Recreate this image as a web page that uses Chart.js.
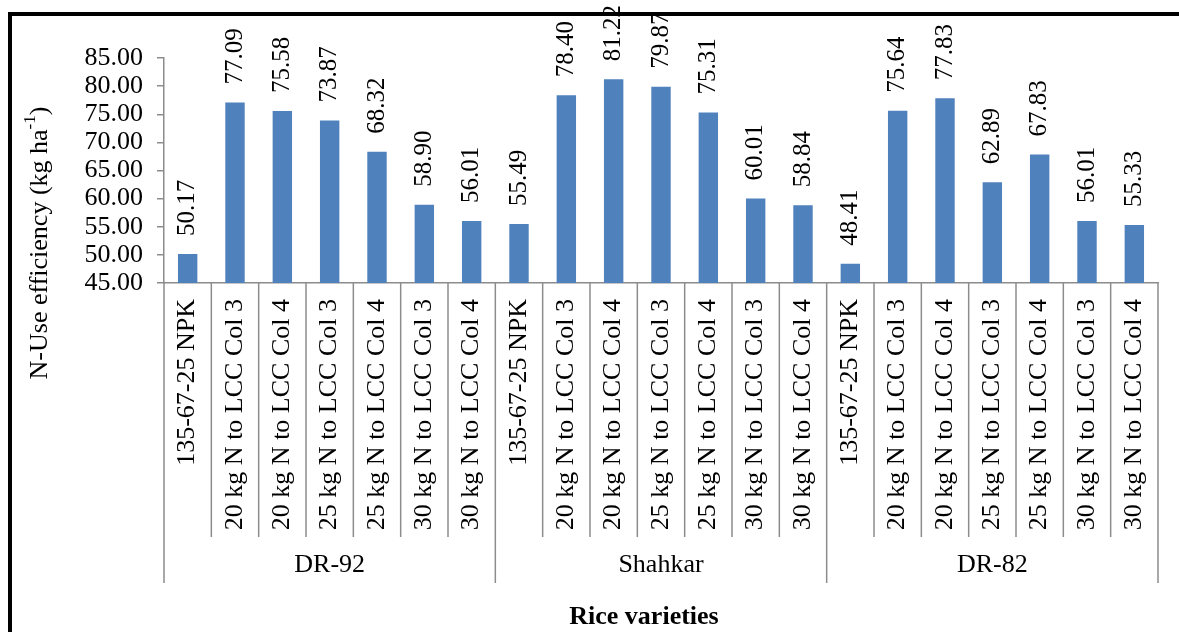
<!DOCTYPE html>
<html>
<head>
<meta charset="utf-8">
<script src="https://cdn.jsdelivr.net/npm/chart.js@4"></script>
<style>
  html, body { margin: 0; padding: 0; background: #fff; }
  #wrap { width: 1179px; height: 632px; position: relative; }
</style>
</head>
<body>
<div id="wrap"><canvas id="c" width="1179" height="632"></canvas></div>
<script>
// Treatments applied within each rice variety
const treatments = [
  '135-67-25 NPK',
  '20 kg N to LCC Col 3',
  '20 kg N to LCC Col 4',
  '25 kg N to LCC Col 3',
  '25 kg N to LCC Col 4',
  '30 kg N to LCC Col 3',
  '30 kg N to LCC Col 4'
];
const varieties = ['DR-92', 'Shahkar', 'DR-82'];

// N-use efficiency (kg ha-1) per variety
const dr92 = [50.17, 77.09, 75.58, 73.87, 68.32, 58.90, 56.01];
const shahkar = [55.49, 78.40, 81.22, 79.87, 75.31, 60.01, 58.84];
const dr82 = [48.41, 75.64, 77.83, 62.89, 67.83, 56.01, 55.33];

const yTicks = [45, 50, 55, 60, 65, 70, 75, 80, 85];

const labels = [].concat(treatments, treatments, treatments);
const values = [].concat(dr92, shahkar, dr82);
const groupSizes = [dr92.length, shahkar.length, dr82.length];

const FONT = '"Liberation Serif", "Times New Roman", serif';
const AXIS_GREY = '#8c8c8c';

const decorations = {
  id: 'decorations',
  beforeDraw(chart) {
    const ctx = chart.ctx;
    ctx.save();
    ctx.fillStyle = '#ffffff';
    ctx.fillRect(0, 0, chart.width, chart.height);
    // black frame (top and left edges)
    ctx.fillStyle = '#000000';
    ctx.fillRect(8, 12, chart.width - 8, 4);
    ctx.fillRect(8, 12, 4, chart.height - 12);
    ctx.restore();
  },
  afterDraw(chart) {
    const ctx = chart.ctx;
    const xs = chart.scales.x;
    const ys = chart.scales.y;
    const n = labels.length;
    const step = xs.getPixelForValue(1) - xs.getPixelForValue(0);
    const axisY = ys.bottom;

    ctx.save();
    ctx.fillStyle = '#000';

    // value labels above the bars
    const meta = chart.getDatasetMeta(0);
    ctx.font = '25px ' + FONT;
    meta.data.forEach((bar, i) => {
      ctx.save();
      ctx.translate(bar.x, bar.y - 18);
      ctx.rotate(-Math.PI / 2);
      ctx.textAlign = 'left';
      ctx.textBaseline = 'middle';
      ctx.fillText(values[i].toFixed(2), 0, 0);
      ctx.restore();
    });

    // treatment labels under the axis
    ctx.font = '26px ' + FONT;
    labels.forEach((lab, i) => {
      const px = xs.getPixelForValue(i);
      ctx.save();
      ctx.translate(px, axisY + 16);
      ctx.rotate(-Math.PI / 2);
      ctx.textAlign = 'right';
      ctx.textBaseline = 'middle';
      ctx.fillText(lab, 0, 0);
      ctx.restore();
    });

    // separators between categories and between varieties
    const groupStarts = [0];
    groupSizes.forEach((s, g) => groupStarts.push(groupStarts[g] + s));
    ctx.strokeStyle = AXIS_GREY;
    ctx.lineWidth = 1.5;
    for (let i = 0; i <= n; i++) {
      const bx = xs.getPixelForValue(0) - step / 2 + i * step;
      const isGroup = groupStarts.includes(i);
      ctx.beginPath();
      ctx.moveTo(bx, axisY);
      ctx.lineTo(bx, axisY + (isGroup ? 300 : 254));
      ctx.stroke();
    }

    // variety names
    ctx.font = '26px ' + FONT;
    ctx.textAlign = 'center';
    ctx.textBaseline = 'middle';
    varieties.forEach((v, g) => {
      const a = xs.getPixelForValue(groupStarts[g]);
      const b = xs.getPixelForValue(groupStarts[g + 1] - 1);
      ctx.fillText(v, (a + b) / 2, axisY + 282);
    });

    // x-axis title
    ctx.font = 'bold 26px ' + FONT;
    ctx.fillText('Rice varieties', 644, 617);

    // y-axis title with superscript
    const main = 'N-Use efficiency (kg ha';
    const sup = '-1';
    const tail = ')';
    ctx.font = '26px ' + FONT;
    const wMain = ctx.measureText(main).width;
    const wTail = ctx.measureText(tail).width;
    ctx.font = '17px ' + FONT;
    const wSup = ctx.measureText(sup).width;
    const total = wMain + wSup + wTail;
    ctx.save();
    ctx.translate(40, 243);
    ctx.rotate(-Math.PI / 2);
    ctx.textAlign = 'left';
    ctx.textBaseline = 'middle';
    let x0 = -total / 2;
    ctx.font = '26px ' + FONT;
    ctx.fillText(main, x0, 0);
    x0 += wMain;
    ctx.font = '17px ' + FONT;
    ctx.fillText(sup, x0, -9);
    x0 += wSup;
    ctx.font = '26px ' + FONT;
    ctx.fillText(tail, x0, 0);
    ctx.restore();

    ctx.restore();
  }
};

new Chart(document.getElementById('c'), {
  type: 'bar',
  data: {
    labels: labels,
    datasets: [{
      data: values,
      backgroundColor: '#4f81bd',
      borderWidth: 0,
      barPercentage: 0.41,
      categoryPercentage: 1.0
    }]
  },
  options: {
    responsive: false,
    animation: false,
    devicePixelRatio: 1,
    layout: { padding: { top: 58, right: 21, left: 0, bottom: 0 } },
    plugins: {
      legend: { display: false },
      tooltip: { enabled: false }
    },
    scales: {
      x: {
        ticks: { display: false },
        grid: { display: false },
        border: { display: true, color: AXIS_GREY, width: 1.5 },
        afterFit(scale) { scale.height = 349; }
      },
      y: {
        min: 45,
        max: 85,
        afterBuildTicks(scale) { scale.ticks = yTicks.map(v => ({ value: v })); },
        ticks: {
          font: { family: FONT, size: 26 },
          color: '#000',
          padding: 14,
          autoSkip: false,
          callback: v => Number(v).toFixed(2)
        },
        grid: { drawOnChartArea: false, drawTicks: true, tickLength: 7, color: AXIS_GREY, lineWidth: 1.5 },
        border: { display: true, color: AXIS_GREY, width: 1.5 },
        afterFit(scale) { scale.width = 164; }
      }
    }
  },
  plugins: [decorations]
});
</script>
</body>
</html>
